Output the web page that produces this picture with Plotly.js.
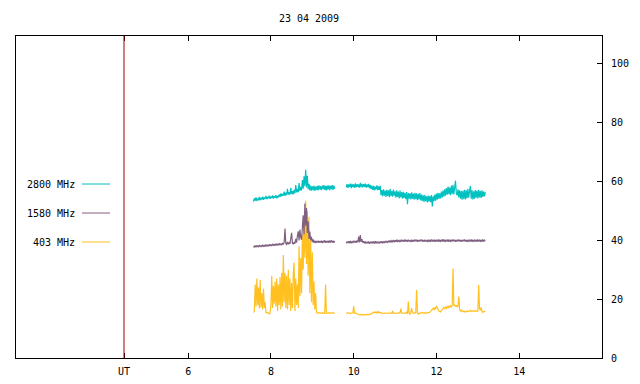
<!DOCTYPE html>
<html>
<head>
<meta charset="utf-8">
<script src="https://cdn.plot.ly/plotly-3.0.1.min.js"></script>
<style>html,body{margin:0;padding:0;background:#fff;}#chart{width:640px;height:384px;}</style>
</head>
<body>
<div id="chart"></div>
<script>
// Sample times (UT hours): regular sampling interval
const sampleStep = 0.02;
const seg1Start = 7.58;
const seg2Start = 9.82;

// 2800 MHz
const f2800_seg1 = [
53.2,54.3,53.5,54.6,53.4,54.2,53.7,54.8,53.6,54.5,
53.9,54.9,53.8,54.6,54.1,55.1,54.0,54.8,54.3,55.2,
54.1,54.9,54.4,55.3,54.2,55.0,54.5,55.4,54.3,55.1,
54.6,55.6,54.8,56.0,55.0,55.8,55.2,56.6,55.1,56.2,
55.4,57.5,55.6,56.4,55.5,57.9,55.8,56.7,55.6,57.2,
56.0,58.8,56.3,57.5,56.4,59.5,56.8,58.2,57.0,60.5,
57.6,61.8,58.4,64.0,58.0,62.0,57.4,59.2,57.0,58.6,
56.9,58.4,57.1,58.6,56.8,58.3,57.2,58.5,57.0,58.7,
57.3,58.4,57.1,58.6,57.4,58.8,57.2,58.5,57.0,58.6,
57.3,58.7,57.1,58.5,57.4,58.8,57.2,58.6,57.5];
const f2800_seg2 = [
58.0,59.1,57.9,59.0,58.2,59.3,57.8,59.2,58.1,59.0,
57.9,59.4,58.0,59.1,58.2,59.0,57.9,59.6,58.1,59.2,
58.0,59.1,58.2,59.3,57.9,59.0,58.1,59.2,57.8,58.9,
57.4,58.6,57.2,58.5,57.0,58.3,57.3,58.7,57.1,58.4,
57.2,58.6,55.4,57.1,55.0,57.4,55.2,56.9,54.8,57.2,
55.1,57.0,54.7,57.5,55.0,56.8,54.9,57.3,55.2,56.7,
54.5,57.0,54.8,56.6,54.3,56.9,54.6,56.4,54.2,56.5,
54.4,56.2,54.0,56.4,52.3,56.1,54.2,56.0,53.9,56.3,
54.1,55.9,53.8,56.2,54.0,56.0,53.7,55.8,53.9,56.1,
53.6,55.6,53.4,55.3,53.1,55.5,53.3,55.0,52.9,55.2,
53.2,55.1,53.0,55.4,51.5,55.0,53.3,55.6,53.5,55.9,
53.8,56.2,54.1,56.0,54.3,56.6,54.6,56.9,54.9,57.4,
55.2,57.8,55.5,58.3,55.7,58.0,55.4,58.6,55.8,58.9,
55.6,58.5,60.3,56.0,55.3,57.4,54.6,57.0,54.2,56.8,
53.8,56.9,54.1,57.2,53.9,57.0,54.3,57.5,54.5,56.8,
58.5,54.2,57.0,53.9,56.7,54.1,57.1,54.5,56.9,54.3,
57.2,54.6,56.8,54.4,57.0,54.8,56.6,55.0,56.4];

// 1580 MHz
const f1580_seg1 = [
37.6,38.2,37.7,38.3,37.8,38.1,37.7,38.4,37.9,38.2,
37.8,38.5,38.0,38.3,37.9,38.6,38.1,38.4,38.0,38.7,
38.2,38.5,38.1,38.8,38.3,38.6,38.2,38.9,38.4,38.7,
38.3,39.0,38.5,38.8,38.4,39.1,38.6,39.4,44.0,38.9,
38.6,39.5,38.7,39.2,38.8,40.2,42.6,39.0,38.8,39.4,
38.9,40.5,39.2,41.5,43.1,40.0,43.7,41.0,40.2,44.5,
48.5,42.0,52.5,45.0,51.0,42.5,46.5,40.5,43.0,40.0,
41.2,39.4,40.3,39.2,39.9,39.1,39.8,39.3,39.9,39.2,
39.8,39.3,39.9,39.1,39.8,39.4,40.0,39.2,39.8,39.3,
39.9,39.2,39.8,39.4,40.0,39.3,39.9,39.2,39.8];
const f1580_seg2 = [
39.0,39.6,39.1,39.7,39.0,39.8,39.2,39.6,39.1,39.9,
39.3,39.8,39.2,40.0,39.4,41.3,39.3,41.8,39.5,40.4,
39.2,39.7,39.0,39.6,38.9,39.5,39.0,39.6,38.8,39.5,
39.0,39.6,38.9,39.5,39.1,39.7,38.9,39.6,39.0,39.5,
38.9,39.6,39.1,39.7,39.0,39.5,39.1,39.8,39.2,39.7,
39.3,39.9,39.4,40.0,39.3,39.9,39.5,40.1,39.4,40.0,
39.5,40.2,39.4,40.1,39.6,40.0,39.5,40.2,39.6,40.1,
39.5,40.3,39.6,40.1,39.5,40.2,39.7,40.0,39.6,40.2,
39.5,40.1,39.6,40.3,39.7,40.2,39.5,40.1,39.6,40.2,
39.7,40.3,39.6,40.1,39.5,40.2,39.7,40.0,39.6,40.2,
39.5,40.1,39.7,40.3,39.6,40.2,39.5,40.1,39.7,40.2,
39.6,40.3,39.5,40.1,39.7,40.2,39.6,40.4,39.5,40.2,
39.7,40.1,39.6,40.3,39.5,40.2,39.7,40.1,39.6,40.3,
39.7,40.2,39.5,40.1,39.6,40.3,39.7,40.2,39.5,40.1,
39.6,40.2,39.7,40.3,39.6,40.1,39.5,40.2,39.7,40.1,
39.6,40.3,39.5,40.2,39.7,40.1,39.6,40.2,39.5,40.3,
39.6,40.1,39.7,40.2,39.5,40.3,39.6,40.1,39.7];

// 403 MHz
const f403_seg1 = [
15.5,16.0,25.0,17.5,27.0,18.0,24.0,16.8,26.5,17.2,
22.0,16.5,23.5,17.0,19.0,15.6,15.3,15.5,15.2,15.0,
15.4,18.0,28.0,17.0,24.5,18.5,26.0,17.5,27.0,16.0,
25.0,18.0,27.5,16.5,29.0,17.5,35.0,19.0,29.0,17.0,
28.0,16.5,30.0,18.0,27.0,16.0,25.5,17.0,28.5,32.5,
16.0,27.0,18.0,25.0,17.0,38.0,21.0,34.0,22.0,42.0,
30.0,47.0,34.0,53.5,32.0,50.0,28.0,48.0,22.0,40.0,
19.0,36.0,18.0,26.0,16.5,22.0,15.5,15.3,15.2,15.4,
15.2,15.3,15.2,15.4,15.2,15.3,15.2,25.0,15.3,15.2,
15.3,15.2,15.4,15.2,15.3,15.2,15.4,15.2,15.3];
const f403_seg2 = [
15.3,15.2,15.4,15.2,15.3,15.1,15.3,15.2,15.3,17.7,
15.2,15.3,15.1,15.0,14.9,14.8,14.7,14.8,14.6,14.7,
14.8,14.6,14.7,14.8,14.6,14.7,14.9,14.7,14.8,14.7,
15.0,15.2,15.5,15.3,15.7,15.4,15.6,15.3,15.8,15.4,
15.6,15.3,15.5,15.2,15.3,15.2,15.3,15.2,15.3,15.2,
15.3,15.2,15.3,15.2,15.3,15.2,16.0,15.2,15.3,15.2,
15.3,15.2,15.3,15.2,15.3,15.4,16.8,15.2,15.3,15.2,
15.3,15.2,15.4,15.6,15.0,19.2,15.2,14.8,15.5,17.0,
15.6,15.2,15.3,15.4,15.2,23.1,15.3,14.9,15.2,15.3,
15.2,15.3,15.4,15.3,15.2,15.4,15.3,15.2,15.4,15.3,
15.4,15.6,15.8,16.2,16.5,16.9,16.3,17.2,16.6,17.7,
16.8,16.5,16.0,15.8,15.7,16.2,16.5,16.9,17.2,16.8,
17.3,16.9,17.5,17.1,17.6,17.2,17.8,17.4,17.9,30.4,
17.8,18.0,17.6,17.8,17.4,17.6,20.9,16.4,16.0,16.4,
15.8,16.0,15.7,15.9,15.6,15.8,16.0,15.7,15.9,16.0,
16.2,15.8,16.0,15.9,16.1,15.8,16.0,16.1,15.9,16.0,
24.8,16.8,16.2,17.2,16.0,15.5,15.8,16.0,15.9];

const seriesNames = ["2800 MHz", "1580 MHz", "403 MHz"];
const seriesColors = ["#00c0c0", "#806080", "#ffc020"];
const xTickVals = [4.45, 6, 8, 10, 12, 14];
const xTickText = ["UT", "6", "8", "10", "12", "14"];
const yTickVals = [0, 20, 40, 60, 80, 100];
const utMarker = 4.45;

function build(seg1, seg2) {
  const x = [], y = [];
  seg1.forEach((v, i) => { x.push(seg1Start + i * sampleStep); y.push(v); });
  x.push(null); y.push(null);
  seg2.forEach((v, i) => { x.push(seg2Start + i * sampleStep); y.push(v); });
  return {x, y};
}

const segData = [build(f2800_seg1, f2800_seg2), build(f1580_seg1, f1580_seg2), build(f403_seg1, f403_seg2)];
// draw 403 first, then 1580, then 2800 on top
const traces = [2, 1, 0].map(k => ({
  type: "scatter", mode: "lines", x: segData[k].x, y: segData[k].y,
  name: seriesNames[k], line: {color: seriesColors[k], width: 1.2}, connectgaps: false,
  hoverinfo: "skip", showlegend: false
}));

const W = 640, H = 384, mL = 16, mR = 38, mT = 36, mB = 26;
const pw = W - mL - mR, ph = H - mT - mB;
const legendRows = [184, 213, 242];
const annotations = [], shapes = [];
seriesNames.forEach((n, k) => {
  const yp = (H - mB - legendRows[k]) / ph;
  annotations.push({xref: "paper", yref: "paper", x: (77 - mL) / pw, y: yp, xanchor: "right", yanchor: "middle",
    text: n, showarrow: false, font: {family: "DejaVu Sans Mono", size: 10, color: "#000"}});
  shapes.push({type: "line", xref: "paper", yref: "paper", x0: (82 - mL) / pw, x1: (110 - mL) / pw, y0: yp, y1: yp,
    line: {color: seriesColors[k], width: 1}});
});
shapes.push({type: "line", xref: "x", yref: "paper", x0: utMarker, x1: utMarker, y0: 0, y1: 1,
  line: {color: "#a00000", width: 1}});

const layout = {
  width: W, height: H,
  margin: {l: mL, r: mR, t: mT, b: mB, pad: 0},
  paper_bgcolor: "#fff", plot_bgcolor: "#fff",
  font: {family: "DejaVu Sans Mono", size: 10, color: "#000"},
  title: {text: "23 04 2009", xref: "paper", x: 0.5, yref: "container", y: 1 - 18 / H, yanchor: "middle",
    font: {family: "DejaVu Sans Mono", size: 10, color: "#000"}},
  showlegend: false,
  xaxis: {range: [1.84, 16], tickvals: xTickVals, ticktext: xTickText, ticks: "inside", ticklen: 5,
    tickcolor: "#000", showline: true, linecolor: "#000", linewidth: 1, mirror: "ticks",
    showgrid: false, zeroline: false, ticklabelstandoff: 4, fixedrange: true},
  yaxis: {range: [0, 109.5], side: "right", tickvals: yTickVals, ticks: "inside", ticklen: 5,
    tickcolor: "#000", showline: true, linecolor: "#000", linewidth: 1, mirror: true,
    showgrid: false, zeroline: false, ticklabelstandoff: 6, fixedrange: true},
  annotations: annotations,
  shapes: shapes
};
Plotly.newPlot("chart", traces, layout, {staticPlot: true, displayModeBar: false});
</script>
</body>
</html>
